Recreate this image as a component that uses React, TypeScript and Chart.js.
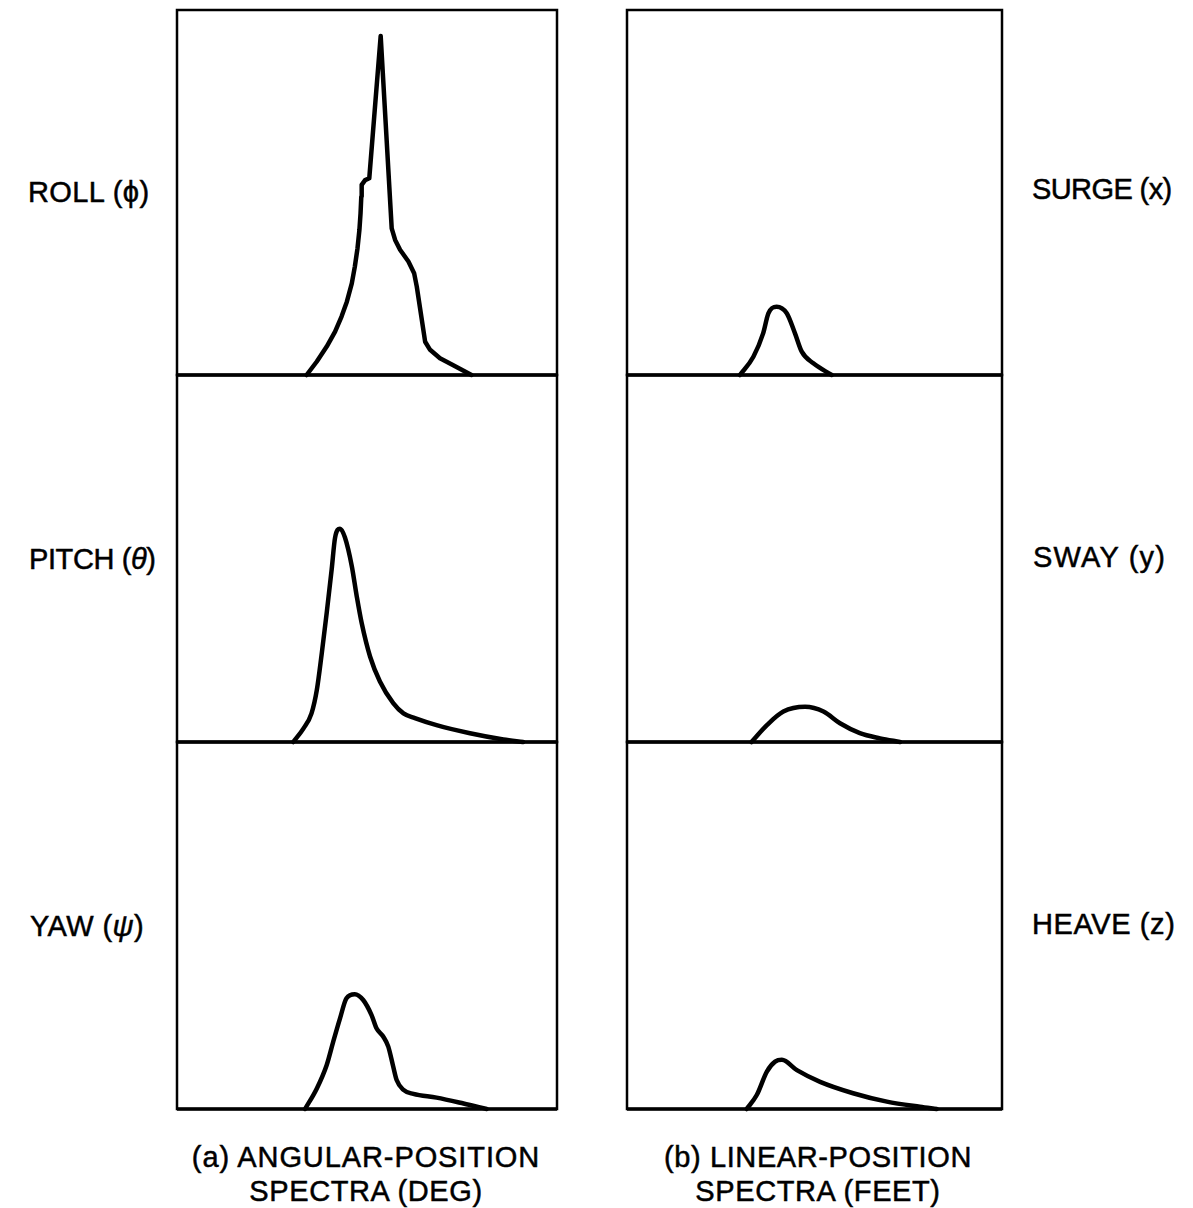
import React, { useEffect, useRef } from "react";
import { Chart, registerables } from "chart.js";

Chart.register(...registerables);

// ---- Data (normalized frequency 0–100 across panel, spectral density 0–100 of panel height) ----
const rollX = [34.1, 36.8, 39.4, 41.6, 43.3, 44.7, 46.0, 46.8, 47.5, 48.0, 48.3, 48.5, 48.6, 49.5, 50.6, 53.6, 56.5, 57.4, 58.7, 60.9, 62.4, 63.1, 65.3, 66.6, 69.2, 72.7, 77.5];
const rollY = [0, 3.7, 7.8, 11.9, 16.0, 20.1, 25.1, 29.7, 34.7, 39.7, 44.3, 48.9, 52.1, 53.4, 53.9, 92.9, 40.2, 37.0, 34.3, 31.1, 27.9, 24.2, 9.1, 6.9, 4.6, 2.7, 0];

const pitchX = [30.6, 33.3, 35.4, 36.8, 38.1, 39.4, 40.7, 41.6, 42.9, 44.2, 46.0, 47.3, 48.6, 50.8, 53.4, 56.9, 59.6, 62.6, 68.3, 77.1, 85.9, 91.1];
const pitchY = [0, 3.7, 7.8, 14.2, 24.2, 35.2, 47.0, 55.7, 58.1, 55.7, 47.9, 39.7, 32.4, 23.3, 16.5, 10.6, 7.8, 6.5, 4.6, 2.4, 0.7, 0];

const yawX = [33.7, 36.8, 39.4, 41.1, 42.9, 44.6, 46.8, 49.0, 51.2, 52.5, 54.3, 55.6, 56.8, 57.8, 59.6, 62.2, 68.3, 75.4, 81.5];
const yawY = [0, 5.6, 12.0, 18.3, 24.7, 30.2, 31.3, 29.7, 25.6, 22.0, 19.7, 17.0, 12.0, 7.9, 5.2, 4.1, 3.1, 1.5, 0];

const surgeX = [30.1, 33.7, 36.3, 37.7, 39.9, 42.6, 44.8, 46.6, 49.7, 54.6];
const surgeY = [0, 5.0, 11.4, 16.9, 18.7, 16.9, 11.4, 6.4, 3.2, 0];

const swayX = [33.2, 37.3, 41.7, 47.5, 52.4, 56.8, 62.1, 67.5, 72.8];
const swayY = [0, 4.6, 8.3, 9.6, 8.3, 5.1, 2.4, 1.0, 0];

const heaveX = [31.9, 34.6, 37.3, 39.5, 41.3, 45.3, 51.5, 60.3, 69.3, 78.1, 82.6];
const heaveY = [0, 3.8, 10.2, 12.9, 13.4, 10.6, 7.4, 4.3, 2.0, 0.6, 0];

// ---- Layout ----
const PANEL_LEFT = [177, 627];
const PANEL_WIDTH = [380, 375];
const ROW_EDGES = [10, 375, 742, 1109];
const PAD = 6;
const FONT = '"Liberation Sans", Arial, Helvetica, sans-serif';

const framePlugin = {
  id: "frame",
  afterDatasetsDraw(chart: any) {
    const { ctx, chartArea } = chart;
    const { left, top, right, bottom } = chartArea;
    ctx.save();
    ctx.strokeStyle = "#000";
    ctx.lineWidth = 2.5;
    ctx.strokeRect(left, top, right - left, bottom - top);
    ctx.lineWidth = 3.5;
    ctx.beginPath();
    ctx.moveTo(left, bottom);
    ctx.lineTo(right, bottom);
    ctx.stroke();
    ctx.restore();
  },
};

type PanelProps = { xs: number[]; ys: number[]; col: number; row: number; sharp?: boolean };

function Panel({ xs, ys, col, row, sharp }: PanelProps) {
  const ref = useRef<HTMLCanvasElement>(null);
  const w = PANEL_WIDTH[col] + 2 * PAD;
  const h = ROW_EDGES[row + 1] - ROW_EDGES[row] + 2 * PAD;
  useEffect(() => {
    const chart = new Chart(ref.current as HTMLCanvasElement, {
      type: "line",
      data: {
        datasets: [
          {
            data: xs.map((x, i) => ({ x, y: ys[i] })),
            borderColor: "#000",
            borderWidth: 4.5,
            pointRadius: 0,
            fill: false,
            tension: 0,
            cubicInterpolationMode: sharp ? "default" : "monotone",
            borderJoinStyle: "round",
            borderCapStyle: "round",
            clip: false,
          } as any,
        ],
      },
      options: {
        animation: false,
        responsive: false,
        maintainAspectRatio: false,
        events: [],
        layout: { padding: PAD },
        plugins: { legend: { display: false }, tooltip: { enabled: false } },
        scales: {
          x: { type: "linear", display: false, min: 0, max: 100 },
          y: { type: "linear", display: false, min: 0, max: 100 },
        },
      },
      plugins: [framePlugin],
    });
    return () => chart.destroy();
  }, []);
  return (
    <canvas
      ref={ref}
      width={w}
      height={h}
      style={{
        position: "absolute",
        left: PANEL_LEFT[col] - PAD,
        top: ROW_EDGES[row] - PAD,
        width: w,
        height: h,
      }}
    />
  );
}

function Label({ left, baseline, children, center, spacing }: { left: number; baseline: number; children: React.ReactNode; center?: boolean; spacing?: number }) {
  const size = 29;
  return (
    <div
      style={{
        position: "absolute",
        left: center ? left - 300 : left,
        width: center ? 600 : undefined,
        textAlign: center ? "center" : "left",
        top: baseline - Math.round(size * 0.8465),
        fontFamily: FONT,
        fontSize: size,
        lineHeight: 1,
        whiteSpace: "nowrap",
        color: "#000",
        letterSpacing: `${spacing ?? (center ? 0.6 : 0.4)}px`,
        WebkitTextStroke: "0.5px #000",
      }}
    >
      {children}
    </div>
  );
}

export default function App() {
  return (
    <div style={{ position: "absolute", left: 0, top: 0, width: 1193, height: 1208, background: "#fff", overflow: "hidden" }}>
      <Panel xs={rollX} ys={rollY} col={0} row={0} sharp />
      <Panel xs={pitchX} ys={pitchY} col={0} row={1} />
      <Panel xs={yawX} ys={yawY} col={0} row={2} />
      <Panel xs={surgeX} ys={surgeY} col={1} row={0} />
      <Panel xs={swayX} ys={swayY} col={1} row={1} />
      <Panel xs={heaveX} ys={heaveY} col={1} row={2} />

      <Label left={28} baseline={203}>ROLL (ϕ)</Label>
      <Label left={29} baseline={570} spacing={-0.4}>PITCH (<i>θ</i>)</Label>
      <Label left={30} baseline={937}>YAW (<i>ψ</i>)</Label>
      <Label left={1032} baseline={200} spacing={-0.6}>SURGE (x)</Label>
      <Label left={1033} baseline={568} spacing={1.2}>SWAY (y)</Label>
      <Label left={1032} baseline={935} spacing={0.6}>HEAVE (z)</Label>

      <Label left={366} baseline={1168} center spacing={0.9}>(a) ANGULAR-POSITION</Label>
      <Label left={366} baseline={1202} center>SPECTRA (DEG)</Label>
      <Label left={818} baseline={1168} center spacing={0.6}>(b) LINEAR-POSITION</Label>
      <Label left={818} baseline={1202} center>SPECTRA (FEET)</Label>
    </div>
  );
}
